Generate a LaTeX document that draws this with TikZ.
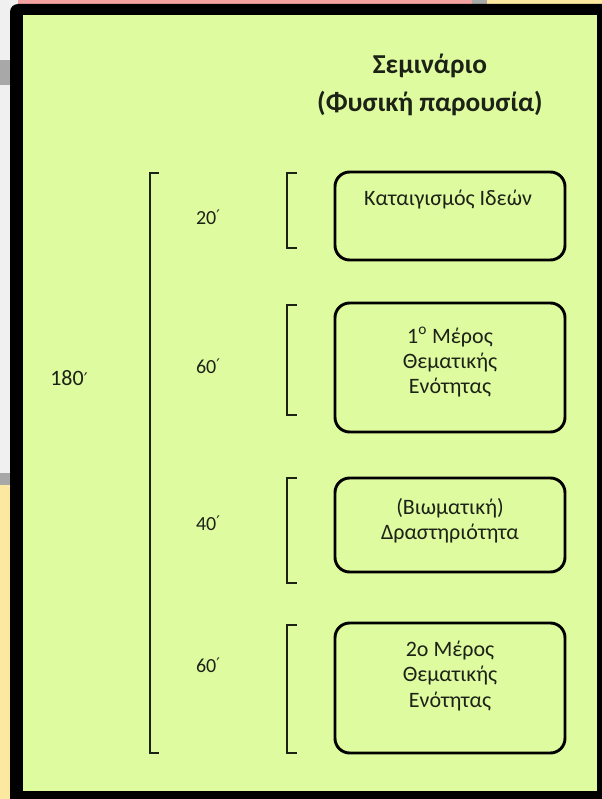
\documentclass[tikz,border=0pt]{standalone}
\usepackage{fontspec}
\setmainfont{Carlito}
\newfontfamily\symf{DejaVu Sans}
\definecolor{bgwhite}{RGB}{240,240,240}
\definecolor{pinkc}{RGB}{244,162,160}
\definecolor{grayc}{RGB}{168,168,168}
\definecolor{yellowc}{RGB}{252,232,158}
\definecolor{greenc}{RGB}{223,251,160}
\definecolor{inkc}{RGB}{28,34,22}
\newcommand{\minmark}{\raisebox{2.5pt}{\symf\fontsize{12}{12}\selectfont ′}}
\tikzset{
  brk/.style={line width=1.6pt, draw=inkc},
  stagebox/.style={draw=black, line width=2.2pt, rounded corners=11pt, minimum width=172.5pt, inner sep=0pt},
  boxtext/.style={text=inkc, align=center, font=\fontsize{16.5}{18.8}\selectfont, inner sep=0pt},
  minlabel/.style={text=inkc, font=\fontsize{15}{16}\selectfont, inner sep=0pt},
  titletext/.style={text=inkc, align=center, font=\fontsize{20.5}{28.5}\selectfont\bfseries, inner sep=0pt}
}
\begin{document}
\begin{tikzpicture}[x=0.75pt,y=-0.75pt]
\useasboundingbox (0,0) rectangle (602,799);
% surroundings
\fill[bgwhite] (0,0) rectangle (602,799);
\fill[pinkc] (18,0) rectangle (472,6);
\fill[grayc] (472,0) rectangle (487,6);
\fill[yellowc] (487,0) rectangle (602,6);
\fill[grayc] (0,60) rectangle (10,85);
\fill[grayc] (0,473) rectangle (10,485);
\fill[yellowc] (0,485) rectangle (10,799);
% frame
\fill[black, rounded corners=6pt] (10,4) rectangle (616,812);
\fill[greenc] (23,15) rectangle (597,791);
% title
\node[titletext] (title) at (430,85) {Σεμινάριο\\(Φυσική παρουσία)};
% big bracket
\draw[brk] (159,173) -- (150,173) -- (150,753) -- (159,753);
\node[minlabel, font=\fontsize{16.5}{17}\selectfont] (total) at (69,378) {180{\symf\fontsize{13}{13}\selectfont ′}};
% small brackets
\draw[brk] (297,173) -- (287,173) -- (287,248) -- (297,248);
\draw[brk] (297,305) -- (287,305) -- (287,415) -- (297,415);
\draw[brk] (297,478) -- (287,478) -- (287,583) -- (297,583);
\draw[brk] (297,625) -- (287,625) -- (287,753) -- (297,753);
% minute labels
\node[minlabel] (m1) at (208,217) {20\minmark};
\node[minlabel] (m2) at (208,366) {60\minmark};
\node[minlabel] (m3) at (208,523) {40\minmark};
\node[minlabel] (m4) at (208,665) {60\minmark};
% boxes
\node[stagebox, minimum height=66pt] (b1) at (450,216) {};
\node[stagebox, minimum height=96.75pt] (b2) at (450,367.5) {};
\node[stagebox, minimum height=70.5pt] (b3) at (450,525) {};
\node[stagebox, minimum height=97.5pt] (b4) at (450,688) {};
% box texts
\node[boxtext] (t1) at (448,200) {Καταιγισμός Ιδεών};
\node[boxtext] (t2) at (450,362) {1\textsuperscript{ο} Μέρος\\Θεματικής\\Ενότητας};
\node[boxtext] (t3) at (450,521) {(Βιωματική)\\Δραστηριότητα};
\node[boxtext] (t4) at (450,676) {2ο Μέρος\\Θεματικής\\Ενότητας};
\end{tikzpicture}
\end{document}
